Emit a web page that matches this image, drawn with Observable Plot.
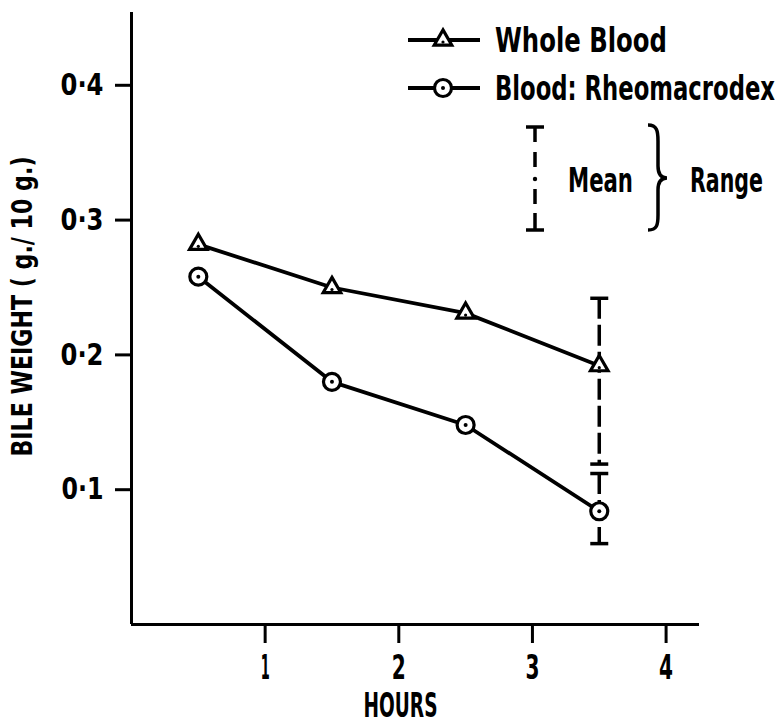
<!DOCTYPE html>
<html>
<head>
<meta charset="utf-8">
<script src="https://cdn.jsdelivr.net/npm/d3@7"></script>
<script src="https://cdn.jsdelivr.net/npm/@observablehq/plot@0.6"></script>
<style>
  body { margin: 0; background: #fff; }
  #chart svg { display: block; font-family: "DejaVu Sans Condensed", "DejaVu Sans", sans-serif; font-weight: bold; }
</style>
</head>
<body>
<div id="chart"></div>
<script>
// ---- data ----
const hours = [0.5, 1.5, 2.5, 3.5];
const wholeBlood = [0.282, 0.250, 0.231, 0.192];
const rheomacrodex = [0.258, 0.180, 0.148, 0.084];
const rangeHour = 3.5;
const wholeBloodRange = [0.119, 0.242];
const rheomacrodexRange = [0.060, 0.112];
const xTicks = [1, 2, 3, 4];
const yTicks = [0.1, 0.2, 0.3, 0.4];
const seriesNames = ["Whole Blood", "Blood: Rheomacrodex"];
const xLabel = "HOURS";
const yLabel = "BILE WEIGHT ( g./ 10 g.)";
const meanLabel = "Mean";
const rangeLabel = "Range";

// ---- tables built from the arrays ----
const wbRows = hours.map((h, i) => ({x: h, y: wholeBlood[i]}));
const rmRows = hours.map((h, i) => ({x: h, y: rheomacrodex[i]}));
const ranges = [
  {x: rangeHour, lo: wholeBloodRange[0], hi: wholeBloodRange[1]},
  {x: rangeHour, lo: rheomacrodexRange[0], hi: rheomacrodexRange[1]}
];
const caps = ranges.flatMap(r => [{x: r.x, y: r.lo}, {x: r.x, y: r.hi}]);

const capSymbol = {draw(ctx) { ctx.moveTo(-9, 0); ctx.lineTo(9, 0); }};
const fmtY = d => d.toFixed(1).replace(".", "·");
const fmtX = d => String(d);

const plot = Plot.plot({
  width: 783,
  height: 723,
  marginLeft: 131,
  marginRight: 84,
  marginTop: 12,
  marginBottom: 99,
  x: {domain: [0, 4.25]},
  y: {domain: [0, 0.454]},
  style: {background: "white", color: "black"},
  marks: [
    Plot.axisX(xTicks, {tickSize: 19, tickPadding: 12, strokeWidth: 3, fontSize: 33, tickFormat: fmtX, label: null}),
    Plot.axisY(yTicks, {tickSize: 16, tickPadding: 12, strokeWidth: 3, fontSize: 30, tickFormat: fmtY, label: null}),
    Plot.ruleX([0], {strokeWidth: 3}),
    Plot.ruleY([0], {strokeWidth: 3}),
    Plot.text([xLabel], {frameAnchor: "bottom", textAnchor: "middle", lineAnchor: "middle", dy: 82, dx: -15, fontSize: 33, fontWeight: "bold"}),
    Plot.text([yLabel], {frameAnchor: "left", textAnchor: "middle", lineAnchor: "middle", rotate: -90, dx: -108, dy: -12, fontSize: 28, fontWeight: "bold"}),
    Plot.line(wbRows, {x: "x", y: "y", strokeWidth: 3.8}),
    Plot.line(rmRows, {x: "x", y: "y", strokeWidth: 3.8}),
    Plot.ruleX(ranges, {x: "x", y1: "hi", y2: "lo", strokeWidth: 3.5, strokeDasharray: "21,6"}),
    Plot.dot(caps, {x: "x", y: "y", symbol: capSymbol, r: 5, fill: "none", stroke: "black", strokeWidth: 3.5}),
    Plot.dot(wbRows, {x: "x", y: "y", symbol: "triangle", r: 6.5, fill: "white", stroke: "black", strokeWidth: 3.2}),
    Plot.dot(wbRows, {x: "x", y: "y", r: 1.6, dy: 2, fill: "black", stroke: "none"}),
    Plot.dot(rmRows, {x: "x", y: "y", r: 8.5, fill: "white", stroke: "black", strokeWidth: 3.2}),
    Plot.dot(rmRows, {x: "x", y: "y", r: 2, fill: "black", stroke: "none"})
  ]
});

// ---- legend, drawn into the same SVG ----
const svg = d3.select(plot);
const lg = svg.append("g").attr("stroke", "black").attr("fill", "none");
const rowsY = [40, 88];
rowsY.forEach((yy, i) => {
  lg.append("line").attr("x1", 408).attr("x2", 480).attr("y1", yy).attr("y2", yy).attr("stroke-width", 3.8);
  if (i === 0) {
    lg.append("path").attr("d", d3.symbol(d3.symbolTriangle, Math.PI * 6.5 * 6.5)()).attr("transform", `translate(443,${yy})`)
      .attr("fill", "white").attr("stroke-width", 3.2);
    lg.append("circle").attr("cx", 443).attr("cy", yy + 2).attr("r", 1.6).attr("fill", "black").attr("stroke", "none");
  } else {
    lg.append("circle").attr("cx", 443).attr("cy", yy).attr("r", 8.5).attr("fill", "white").attr("stroke-width", 3.2);
    lg.append("circle").attr("cx", 443).attr("cy", yy).attr("r", 2).attr("fill", "black").attr("stroke", "none");
  }
  lg.append("text").attr("x", 495).attr("y", yy).attr("dy", "0.36em").attr("text-anchor", "start")
    .attr("fill", "black").attr("stroke", "none").attr("font-size", 34).text(seriesNames[i]);
});
// mean / range key
const bx = 535;
[127, 230].forEach(a => lg.append("line").attr("x1", bx - 9).attr("x2", bx + 9).attr("y1", a).attr("y2", a).attr("stroke-width", 3.5));
[[127, 142], [152, 167], [189, 204], [213, 230]].forEach(([a, b]) =>
  lg.append("line").attr("x1", bx).attr("x2", bx).attr("y1", a).attr("y2", b).attr("stroke-width", 3.5));
lg.append("circle").attr("cx", bx).attr("cy", 179).attr("r", 2.2).attr("fill", "black").attr("stroke", "none");
lg.append("text").attr("x", 568).attr("y", 180).attr("dy", "0.36em").attr("text-anchor", "start")
  .attr("fill", "black").attr("stroke", "none").attr("font-size", 34).text(meanLabel);
lg.append("path").attr("stroke-width", 3.5)
  .attr("d", "M648,125 C657,125 658,131 658,141 L658,166 C658,174 661,178 667,178 C661,178 658,182 658,190 L658,215 C658,225 657,230 648,230");
lg.append("text").attr("x", 690).attr("y", 180).attr("dy", "0.36em").attr("text-anchor", "start")
  .attr("fill", "black").attr("stroke", "none").attr("font-size", 34).text(rangeLabel);

// condense the lettering to the narrow face of the original
const widths = new Map([
  ["0·1", 42], ["0·2", 43], ["0·3", 43], ["0·4", 43],
  ["1", 9], ["2", 14], ["3", 14], ["4", 14],
  [xLabel, 74], [yLabel, 300],
  [seriesNames[0], 172], [seriesNames[1], 280],
  [meanLabel, 65], [rangeLabel, 73]
]);
svg.selectAll("text").each(function() {
  const t = this.textContent;
  if (widths.has(t)) {
    this.setAttribute("textLength", widths.get(t));
    this.setAttribute("lengthAdjust", "spacingAndGlyphs");
  }
});

document.getElementById("chart").append(plot);
</script>
</body>
</html>
